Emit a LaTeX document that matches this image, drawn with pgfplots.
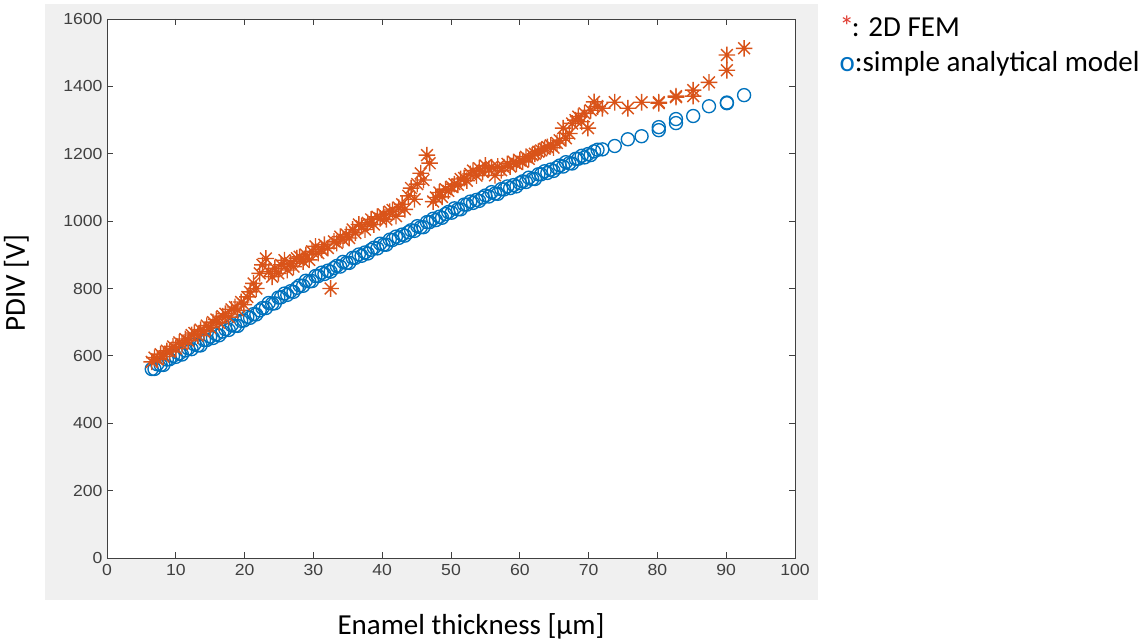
\documentclass[border=0pt]{standalone}
\usepackage{fontspec}
\setmainfont{Carlito}
\newfontfamily\ticksfont[FakeStretch=1.1]{Liberation Sans}
\usepackage{pgfplots}
\pgfplotsset{compat=1.18}
\definecolor{mblue}{HTML}{0072BD}
\definecolor{morange}{HTML}{D95319}
\definecolor{figgray}{HTML}{F0F0F0}
\definecolor{axgray}{HTML}{404040}
\definecolor{legred}{HTML}{E03C31}
\definecolor{legblue}{HTML}{0070C0}
\newcommand{\tickfmt}[1]{{\ticksfont\fontsize{16}{18}\selectfont #1}}
\pgfdeclareplotmark{mstar}{%
  \pgfpathmoveto{\pgfqpoint{-\pgfplotmarksize}{0pt}}\pgfpathlineto{\pgfqpoint{\pgfplotmarksize}{0pt}}%
  \pgfpathmoveto{\pgfqpoint{0pt}{-\pgfplotmarksize}}\pgfpathlineto{\pgfqpoint{0pt}{\pgfplotmarksize}}%
  \pgfpathmoveto{\pgfqpoint{-0.707\pgfplotmarksize}{-0.707\pgfplotmarksize}}\pgfpathlineto{\pgfqpoint{0.707\pgfplotmarksize}{0.707\pgfplotmarksize}}%
  \pgfpathmoveto{\pgfqpoint{-0.707\pgfplotmarksize}{0.707\pgfplotmarksize}}\pgfpathlineto{\pgfqpoint{0.707\pgfplotmarksize}{-0.707\pgfplotmarksize}}%
  \pgfusepathqstroke}

\pgfplotstableread{
x y
6.5 561
6.9 561
7.3 575
7.8 573
8.2 573
8.7 589
9.1 590
9.6 600
10.0 597
10.5 607
10.9 604
11.4 616
11.8 622
12.3 620
12.7 634
13.2 631
13.6 631
14.1 647
14.5 647
15.0 657
15.4 653
15.9 664
16.3 661
16.8 672
17.2 679
17.7 677
18.1 691
18.6 689
19.0 689
19.5 704
19.9 705
20.4 716
20.8 713
21.3 724
21.7 723
22.2 735
22.6 742
23.1 742
23.5 757
24.0 755
24.4 756
24.9 773
25.3 774
25.8 785
26.2 781
26.7 792
27.1 790
27.6 802
28.0 809
28.5 808
28.9 823
29.4 821
29.8 822
30.3 837
30.7 837
31.2 847
31.6 843
32.1 853
32.5 850
33.0 861
33.4 867
33.9 865
34.3 879
34.8 876
35.2 876
35.7 891
36.1 891
36.6 901
37.0 897
37.5 907
37.9 904
38.4 915
38.8 921
39.3 919
39.7 933
40.2 930
40.6 930
41.1 945
41.5 944
42.0 954
42.4 950
42.9 960
43.3 957
43.8 967
44.2 973
44.7 971
45.1 985
45.6 982
46.0 982
46.5 997
46.9 997
47.4 1007
47.8 1003
48.3 1013
48.7 1010
49.2 1021
49.6 1027
50.1 1025
50.5 1038
51.0 1035
51.4 1035
51.9 1049
52.3 1049
52.8 1058
53.2 1054
53.7 1063
54.1 1060
54.6 1070
55.0 1076
55.5 1073
55.9 1086
56.4 1082
56.8 1081
57.3 1095
57.7 1094
58.2 1103
58.6 1098
59.1 1107
59.5 1103
60.0 1113
60.4 1118
60.9 1116
61.3 1129
61.8 1125
62.2 1125
62.7 1139
63.1 1139
63.6 1148
64.0 1143
64.5 1153
64.9 1149
65.4 1159
65.8 1165
66.3 1162
66.7 1175
67.2 1172
67.6 1171
68.1 1185
68.5 1185
69.0 1194
69.4 1189
69.9 1199
70.3 1196
70.8 1207
71.3 1212
72.0 1213
73.8 1223
75.7 1243
77.7 1252
80.2 1279
80.2 1270
82.7 1303
82.7 1291
85.2 1312
87.5 1341
90.1 1350
90.1 1352
92.6 1374
}\analytic

\pgfplotstableread{
x y
6.5 582
6.9 595
7.3 590
7.8 605
8.2 598
8.7 615
9.1 612
9.6 628
10.0 622
10.5 640
10.9 635
11.4 650
11.8 645
12.3 662
12.7 668
13.2 660
13.6 678
14.1 672
14.5 690
15.0 684
15.4 700
15.9 708
16.3 698
16.8 718
17.2 725
17.7 715
18.1 738
18.6 745
19.0 735
19.5 760
19.9 752
20.4 775
20.8 790
21.3 815
21.7 800
22.2 845
22.6 870
23.1 889
23.5 850
24.0 835
24.4 860
24.9 845
25.3 870
25.8 884
26.2 855
26.7 875
27.1 865
27.6 890
28.0 894
28.5 880
28.9 900
29.4 885
29.8 910
30.3 925
30.7 905
31.2 915
31.6 930
32.1 920
32.5 800
33.0 940
33.4 935
33.9 954
34.3 945
34.8 960
35.2 950
35.7 975
36.1 965
36.6 990
37.0 985
37.5 975
37.9 995
38.4 1005
38.8 990
39.3 1013
39.7 1008
40.2 1020
40.6 1005
41.1 1028
41.5 1033
42.0 1015
42.4 1040
42.9 1050
43.3 1035
43.8 1075
44.2 1098
44.7 1065
45.1 1110
45.6 1142
46.0 1122
46.5 1196
46.9 1172
47.4 1058
47.8 1070
48.3 1085
48.7 1072
49.2 1095
49.6 1090
50.1 1102
50.5 1110
51.0 1108
51.4 1125
51.9 1128
52.3 1120
52.8 1140
53.2 1150
53.7 1135
54.1 1157
54.6 1146
55.0 1165
55.5 1155
55.9 1160
56.4 1136
56.8 1162
57.3 1151
57.7 1160
58.2 1170
58.6 1162
59.1 1176
59.5 1170
60.0 1180
60.4 1176
60.9 1191
61.3 1185
61.8 1196
62.2 1200
62.7 1206
63.1 1210
63.6 1215
64.0 1220
64.5 1225
64.9 1218
65.4 1232
65.8 1240
66.3 1276
66.7 1246
67.2 1260
67.6 1290
68.1 1300
68.5 1310
69.0 1295
69.4 1320
69.9 1276
70.3 1329
70.8 1354
71.3 1340
72.0 1335
73.8 1353
75.7 1335
77.7 1353
80.2 1353
80.2 1350
82.7 1371
82.7 1368
85.2 1389
85.2 1371
87.5 1412
90.1 1493
90.1 1448
92.6 1513
}\fem

\begin{document}
\begin{tikzpicture}
\fill[white] (0,0) rectangle (1148pt,642pt);
\fill[figgray] (45pt,42pt) rectangle (818pt,638pt);
\begin{axis}[
  at={(107pt,84pt)}, anchor=south west,
  scale only axis, width=688pt, height=539pt,
  xmin=0, xmax=100, ymin=0, ymax=1600,
  xtick distance=10, ytick distance=200,
  tick align=inside, tick pos=both,
  major tick length=6pt,
  axis line style={axgray, line width=0.9pt},
  tick style={axgray, line width=0.9pt},
  axis background/.style={fill=white},
  /pgf/number format/1000 sep={},
  /pgf/number format/assume math mode=true,
  tick label style={text=axgray},
  xticklabel={\tickfmt{\pgfmathprintnumber{\tick}}},
  yticklabel={\tickfmt{\pgfmathprintnumber{\tick}}},
  xticklabel style={yshift=-3pt},
  yticklabel style={xshift=-1pt},
  clip=false,
]
\addplot[only marks, mark=o, mark size=6.5pt, mblue, line width=1.35pt] table[x=x,y=y] {\analytic};
\addplot[only marks, mark=mstar, mark size=8.3pt, morange, line width=1.4pt] table[x=x,y=y] {\fem};
\end{axis}
\node[font=\fontsize{29}{34}\selectfont, anchor=base] at (471pt,8pt) {Enamel thickness [μm]};
\node[font=\fontsize{29}{34}\selectfont, anchor=base, rotate=90] at (25pt,359pt) {PDIV [V]};
\node[font=\fontsize{29}{34}\selectfont, anchor=base west] at (836pt,605pt) {\textcolor{legred}{*}\kern-2pt: 2D FEM};
\node[font=\fontsize{29}{34}\selectfont, anchor=base west] at (836pt,570pt) {\textcolor{legblue}{o}:simple analytical model};
\end{tikzpicture}
\end{document}
